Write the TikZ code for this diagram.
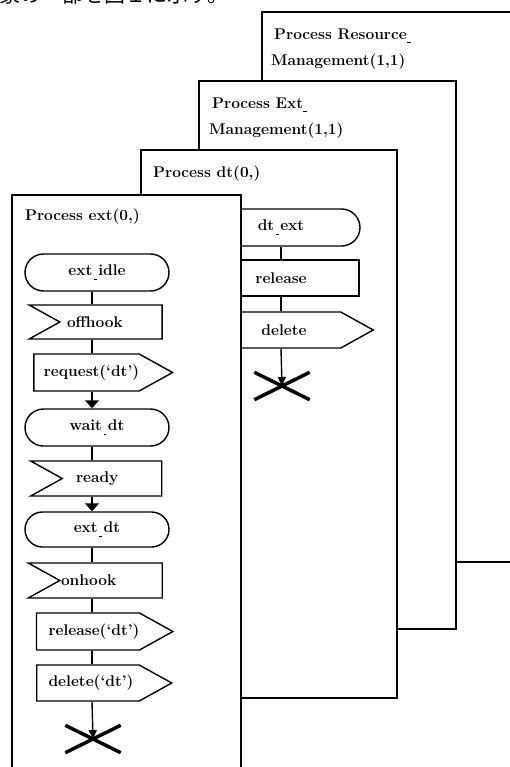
\documentclass[tikz,border=0pt]{standalone}
\usepackage{fontspec}
\newfontfamily\jpfont{Noto Sans CJK JP}
\usetikzlibrary{shapes.misc,shapes.symbols,arrows.meta,positioning}

% low dash for the underscore in names
\newcommand{\lowgap}{\makebox[6pt]{\rule[-4pt]{2.5pt}{0.9pt}}}
\newcommand{\lowend}{\rule[-3pt]{4pt}{0.9pt}}

\begin{document}
\begin{tikzpicture}[x=1pt, y=-1pt,
    every node/.style={font=\fontsize{15.5}{18}\selectfont\bfseries},
    procbox/.style={draw, line width=1.8pt, fill=white},
    title/.style={anchor=base west, inner sep=0pt},
    state/.style={rounded rectangle, draw, line width=1.4pt, minimum width=144pt, minimum height=37pt, inner sep=0pt},
    insig/.style={signal, signal from=west, signal to=nowhere, signal pointer angle=58, draw, line width=1.4pt, minimum height=35pt, inner sep=0pt, text width=88pt, align=left},
    outsig/.style={signal, signal to=east, signal pointer angle=58, draw, line width=1.4pt, minimum height=37pt, inner sep=0pt},
    task/.style={rectangle, draw, line width=1.4pt, minimum height=36pt, inner sep=0pt},
    stopx/.style={minimum width=55pt, minimum height=27pt, inner sep=0pt},
    flow/.style={line width=1.4pt},
    >={Triangle[width=14pt,length=8pt]}]
  \useasboundingbox (0,0) rectangle (510,767);
  \clip (0,0) rectangle (510,767);

  \node[anchor=base west, inner sep=0pt, font=\jpfont\fontsize{21}{21}\selectfont] (caption) at (-1,3) {象の一部を図１に示す。};

  % Resource management
  \draw[procbox] (262,12) rectangle (520,562);
  \node[title] (rmtitle) at (274,40) {Process Resource\lowend};
  \node[title] (rmtitle2) at (271,66) {Management(1,1)};

  % Ext management
  \draw[procbox] (199,81) rectangle (456,629);
  \node[title] (emtitle) at (212,109) {Process Ext\lowend};
  \node[title] (emtitle2) at (209,135) {Management(1,1)};

  % Process dt
  \draw[procbox] (141,150) rectangle (397,698);
  \node[title] (dttitle) at (153,178) {Process dt(0,)};
  \coordinate (ax2) at (281,0);
  \node[state, minimum width=158pt] (dtext) at (281,227.5) {dt\lowgap ext};
  \node[task, minimum width=156pt] (release2) at (281,278) {release};
  \node[outsig, minimum width=170pt, minimum height=36pt] (delete2) at (272,330) {\hspace*{24pt}delete};
  \node[stopx] (stop2) at (282,386) {};
  \draw[flow] (dtext.south -| ax2) -- (release2.north -| ax2);
  \draw[flow] (release2.south -| ax2) -- (delete2.north -| ax2);
  \draw[flow, -{Triangle[width=8pt,length=9pt]}] (delete2.south -| ax2) -- (stop2.center);
  \draw[line width=3.5pt] (stop2.north west) -- (stop2.south east) (stop2.south west) -- (stop2.north east);

  % Process ext
  \draw[procbox] (12,195) rectangle (241,790);
  \node[title] (exttitle) at (25,220) {Process ext(0,)};
  \coordinate (ax1) at (92,0);
  \node[state] (extidle) at (97,272.5) {ext\lowgap idle};
  \node[insig, minimum width=133pt, minimum height=34pt] (offhook) at (111,322) {offhook};
  \node[outsig, minimum width=134pt] (request) at (86.5,372.5) {\hspace*{10pt}request(`dt')};
  \node[state] (waitdt) at (97,427.5) {wait\lowgap dt};
  \node[insig, minimum width=131pt] (ready) at (112,478.5) {\hspace*{8pt}ready};
  \node[state, minimum height=35pt] (extdt) at (97,529.5) {ext\lowgap dt};
  \node[insig, minimum width=134pt] (onhook) at (111,580.5) {\hspace*{-6pt}onhook};
  \node[outsig, minimum width=135pt] (release1) at (88,631.5) {\hspace*{12pt}release(`dt')};
  \node[outsig, minimum width=135pt, minimum height=36pt] (delete1) at (88,683) {\hspace*{6pt}delete(`dt')};
  \node[stopx] (stop1) at (93,739) {};

  \draw[flow] (extidle.south -| ax1) -- (offhook.north -| ax1);
  \draw[flow] (offhook.south -| ax1) -- (request.north -| ax1);
  \draw[flow, ->] (request.south -| ax1) -- (waitdt.north -| ax1);
  \draw[flow] (waitdt.south -| ax1) -- (ready.north -| ax1);
  \draw[flow, ->] (ready.south -| ax1) -- (extdt.north -| ax1);
  \draw[flow] (extdt.south -| ax1) -- (onhook.north -| ax1);
  \draw[flow] (onhook.south -| ax1) -- (release1.north -| ax1);
  \draw[flow] (release1.south -| ax1) -- (delete1.north -| ax1);
  \draw[flow, -{Triangle[width=8pt,length=9pt]}] (delete1.south -| ax1) -- (stop1.center);
  \draw[line width=3.5pt] (stop1.north west) -- (stop1.south east) (stop1.south west) -- (stop1.north east);
\end{tikzpicture}
\end{document}
